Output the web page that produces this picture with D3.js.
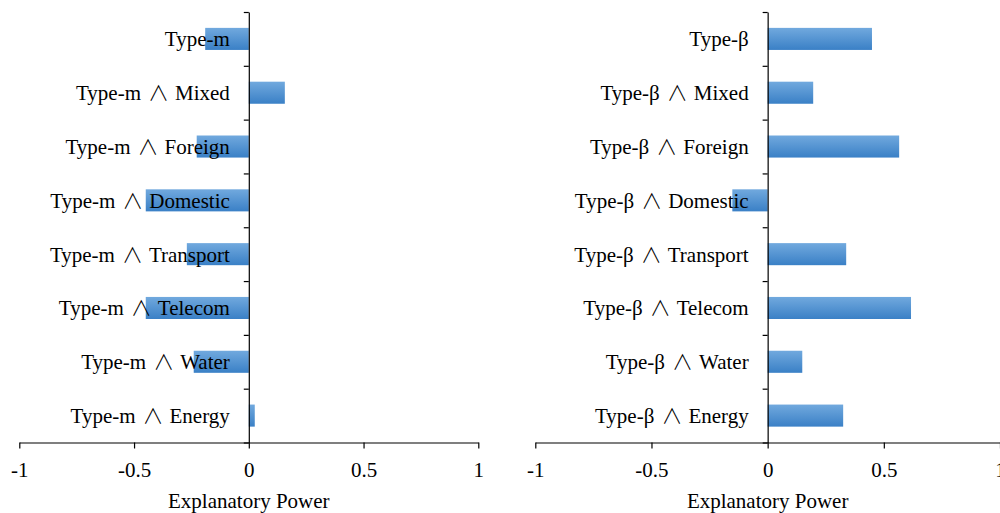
<!DOCTYPE html>
<html>
<head>
<meta charset="utf-8">
<script src="https://cdn.jsdelivr.net/npm/d3@7"></script>
<style>
  body { margin: 0; background: #fff; }
  text { font-family: "Liberation Serif", "Times New Roman", serif; fill: #000; }
</style>
</head>
<body>
<svg id="chart" width="1000" height="513"></svg>
<script>
var width = 1000;
var height = 513;

// categories, top to bottom
var leftLabels = ["Type-m", "Type-m \u2227 Mixed", "Type-m \u2227 Foreign", "Type-m \u2227 Domestic",
  "Type-m \u2227 Transport", "Type-m \u2227 Telecom", "Type-m \u2227 Water", "Type-m \u2227 Energy"];
var leftValues = [-0.19, 0.157, -0.227, -0.449, -0.27, -0.449, -0.24, 0.026];

var rightLabels = ["Type-\u03b2", "Type-\u03b2 \u2227 Mixed", "Type-\u03b2 \u2227 Foreign", "Type-\u03b2 \u2227 Domestic",
  "Type-\u03b2 \u2227 Transport", "Type-\u03b2 \u2227 Telecom", "Type-\u03b2 \u2227 Water", "Type-\u03b2 \u2227 Energy"];
var rightValues = [0.449, 0.196, 0.566, -0.152, 0.338, 0.617, 0.149, 0.325];

var xTicks = [-1, -0.5, 0, 0.5, 1];
var axisTitle = "Explanatory Power";

var fontSize = "21px";
var svg = d3.select("#chart");

// bar gradient (lighter on top, darker at bottom)
var grad = svg.append("defs").append("linearGradient")
  .attr("id", "barFill")
  .attr("x1", 0).attr("y1", 0).attr("x2", 0).attr("y2", 1);
grad.append("stop").attr("offset", "0%").attr("stop-color", "#71a9de");
grad.append("stop").attr("offset", "100%").attr("stop-color", "#3a80c6");

var plotTop = 12, plotBottom = 442.5;

function drawPanel(labels, values, x0, x1) {
  var x = d3.scaleLinear().domain([-1, 1]).range([x0, x1]);
  var y = d3.scaleBand().domain(labels).range([plotTop, plotBottom]).paddingInner(0.59).paddingOuter(0.295);
  var yIdx = d3.scaleLinear().domain([0, labels.length]).range([plotTop, plotBottom]);

  var g = svg.append("g");

  // bars
  g.selectAll("rect")
    .data(values)
    .enter()
    .append("rect")
    .attr("x", function(d) { return x(Math.min(0, d)); })
    .attr("y", function(d, i) { return y(labels[i]); })
    .attr("width", function(d) { return Math.abs(x(d) - x(0)); })
    .attr("height", y.bandwidth())
    .attr("fill", "url(#barFill)");

  // x axis
  var xa = g.append("g")
    .attr("transform", "translate(0," + plotBottom + ")")
    .call(d3.axisBottom(x).tickValues(xTicks).tickSize(6).tickSizeOuter(0)
      .tickFormat(function(d) { return String(d); }));
  xa.selectAll("text").attr("dy", null).attr("y", 34).style("font-size", fontSize)
    .style("font-family", "Liberation Serif");

  // y axis: ticks at category boundaries
  g.append("g")
    .attr("transform", "translate(" + x(0) + ",0)")
    .call(d3.axisLeft(yIdx).tickValues(d3.range(labels.length + 1)).tickSize(5).tickSizeOuter(0).tickFormat(""));

  g.selectAll(".domain, .tick line").attr("stroke", "#000").attr("stroke-width", 1.2);

  // category labels over the bars; the wedge uses a thin CJK glyph
  var cat = g.selectAll("text.cat")
    .data(labels)
    .enter()
    .append("text")
    .attr("class", "cat")
    .attr("x", x(0) - 19)
    .attr("y", function(d) { return y(d) + y.bandwidth() / 2; })
    .attr("dy", "0.35em")
    .attr("text-anchor", "end")
    .style("font-size", fontSize);

  cat.each(function(d) {
    var t = d3.select(this);
    var parts = d.split(" \u2227 ");
    t.append("tspan").text(parts[0]);
    if (parts.length > 1) {
      t.append("tspan")
        .attr("dx", 7)
        .style("font-family", "Noto Sans CJK SC")
        .style("font-weight", 300)
        .text("\u2227");
      t.append("tspan").attr("dx", 6).text(parts[1]);
    }
  });

  // axis title
  g.append("text")
    .attr("x", x(0))
    .attr("y", 508)
    .attr("text-anchor", "middle")
    .style("font-size", fontSize)
    .text(axisTitle);
}

drawPanel(leftLabels, leftValues, 19.3, 478.3);
drawPanel(rightLabels, rightValues, 535.3, 1000);
</script>
</body>
</html>
